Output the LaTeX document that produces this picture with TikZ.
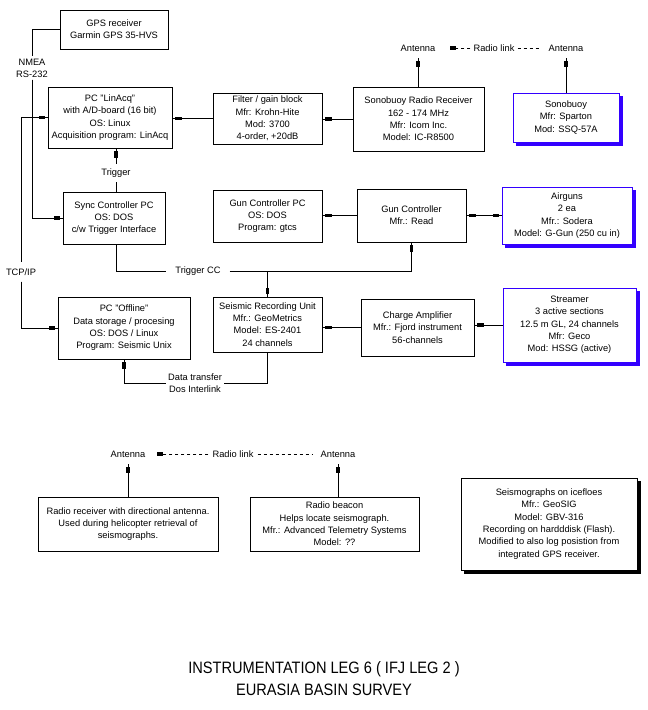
\documentclass[tikz,border=0pt]{standalone}
\usepackage{fontspec}
\setmainfont{Liberation Sans}
\newfontfamily\titlefont[FakeStretch=0.885]{Liberation Sans}
\usetikzlibrary{arrows.meta}
\definecolor{myblue}{RGB}{51,0,255}
\newcommand{\bodyfont}{\fontsize{9.3}{12.3}\selectfont}
\pgfdeclarelayer{bg}
\pgfsetlayers{bg,main}
\begin{document}
\begin{tikzpicture}[x=1pt,y=-1pt,
  box/.style={draw, fill=white, line width=0.8pt, align=center, inner sep=1pt, font=\bodyfont},
  bbox/.style={box, draw=myblue},
  lbl/.style={font=\bodyfont, align=center, inner sep=2pt},
  ant/.style={lbl, inner xsep=4pt, inner ysep=6.5pt},
  ln/.style={line width=0.8pt},
  tip/.tip={Rectangle[length=6pt,width=3.2pt]},
  tipe/.style={ln, postaction={draw, -tip, shorten >=3pt}},
  tips/.style={ln, postaction={draw, tip-, shorten <=3pt}},
  tipb/.style={ln, postaction={draw, tip-tip, shorten <=3pt, shorten >=3pt}},
  dln/.style={ln, dash pattern=on 3pt off 3pt},
  shad/.style={fill=#1},
]
\useasboundingbox (0,0) rectangle (648,710);

% boxes
\node[box, minimum width=108, minimum height=39] (gps) at (114,29.5) {GPS receiver\\Garmin GPS 35-HVS};
\node[box, minimum width=124, minimum height=61] (linacq) at (110,117.5) {PC "LinAcq"\\with A/D-board (16 bit)\\OS: Linux\\Acquisition program: LinAcq};
\node[box, minimum width=109, minimum height=51] (filter) at (267.5,118.5) {Filter / gain block\\Mfr: Krohn-Hite\\Mod: 3700\\4-order, +20dB};
\node[box, minimum width=131, minimum height=64] (srr) at (418.5,119) {Sonobuoy Radio Receiver\\162 - 174 MHz\\Mfr: Icom Inc.\\Model: IC-R8500};
\node[bbox, minimum width=106, minimum height=49] (sono) at (566,117.5) {Sonobuoy\\Mfr: Sparton\\Mod: SSQ-57A};
\node[box, minimum width=102, minimum height=52] (sync) at (114,218) {Sync Controller PC\\OS: DOS\\c/w Trigger Interface};
\node[box, minimum width=109, minimum height=52] (gcpc) at (267.5,216) {Gun Controller PC\\OS: DOS\\Program: gtcs};
\node[box, minimum width=109, minimum height=53] (gc) at (411.5,215.5) {Gun Controller\\Mfr.: Read};
\node[bbox, minimum width=130, minimum height=57] (airguns) at (567,215.5) {Airguns\\2 ea\\Mfr.: Sodera\\Model: G-Gun (250 cu in)};
\node[box, minimum width=132, minimum height=62] (offline) at (124,328) {PC "Offline"\\Data storage / procesing\\OS: DOS / Linux\\Program: Seismic Unix};
\node[box, minimum width=109, minimum height=55] (sru) at (267.5,324.5) {Seismic Recording Unit\\Mfr.: GeoMetrics\\Model: ES-2401\\24 channels};
\node[box, minimum width=113, minimum height=57] (ca) at (417.5,327.5) {Charge Amplifier\\Mfr.: Fjord instrument\\56-channels};
\node[bbox, minimum width=133, minimum height=74] (streamer) at (569.5,325) {Streamer\\3 active sections\\12.5 m GL, 24 channels\\Mfr: Geco\\Mod: HSSG (active)};
\node[box, minimum width=180, minimum height=54] (radiorx) at (128,524) {Radio receiver with directional antenna.\\Used during helicopter retrieval of\\seismographs.};
\node[box, minimum width=169, minimum height=54] (beacon) at (334.5,524) {Radio beacon\\Helps locate seismograph.\\Mfr.: Advanced Telemetry Systems\\Model: ??};
\node[box, minimum width=176, minimum height=92] (seis) at (549,524) {Seismographs on icefloes\\Mfr.: GeoSIG\\Model: GBV-316\\Recording on hardddisk (Flash).\\Modified to also log posistion from\\integrated GPS receiver.};

% shadows
\begin{pgfonlayer}{bg}
\foreach \n/\c in {sono/myblue, airguns/myblue, streamer/myblue, seis/black}
  \fill[shad=\c] ([xshift=3.5pt,yshift=-3.5pt]\n.south west) rectangle ([xshift=3.5pt,yshift=-3.5pt]\n.north east);
\end{pgfonlayer}

% labels
\node[lbl] (nmea) at (32,68) {NMEA\\RS-232};
\node[lbl, inner ysep=6pt] (tcp) at (21,272) {TCP/IP};
\node[lbl, inner ysep=4.5pt] (trig) at (116,173) {Trigger};
\node[lbl, inner xsep=9pt] (tcc) at (198,271) {Trigger CC};
\node[lbl] (dt) at (195,383.5) {Data transfer\\Dos Interlink};
\node[ant] (ant1) at (418,48) {Antenna};
\node[ant] (ant2) at (566,48) {Antenna};
\node[lbl, inner xsep=3pt] (rl1) at (494,48) {Radio link};
\node[ant] (ant3) at (128,454) {Antenna};
\node[ant] (ant4) at (338,454) {Antenna};
\node[lbl, inner xsep=4pt] (rl2) at (233,454) {Radio link};
\node[font=\titlefont\fontsize{16.5}{22}\selectfont, align=center] (title) at (324,679) {INSTRUMENTATION LEG 6 ( IFJ LEG 2 )\\EURASIA BASIN SURVEY};

% connectors
\draw[ln] (gps.west) -| (nmea.north);
\draw[tipe] (nmea.south) |- (sync.west);
\draw[tips] (linacq.west) -| (tcp.north);
\draw[tipe] (tcp.south) |- (offline.west);
\draw[tipe] (filter.west) -- (filter.west -| linacq.east);
\draw[tipe] (srr.west) -- (srr.west -| filter.east);
\draw[tipe] (srr.north -| ant1) -- (ant1.south);
\draw[tipe] (sono.north -| ant2) -- (ant2.south);
\draw[dln, shorten >=4pt] (rl1.east) -- (ant2.west);
\draw[dln, -tip, shorten >=10pt] (rl1.west) -- (ant1.east);
\draw[ln] (sync.north -| trig) -- (trig.south);
\draw[tipe] (trig.north) -- (trig.north |- linacq.south);
\draw[tipe] (gc.west) -- (gc.west -| gcpc.east);
\draw[tipb] (gc.east) -- (gc.east -| airguns.west);
\draw[ln] (sync.south -| trig) |- (tcc.west);
\draw[tipe] (tcc.east) -| (gc.south);
\coordinate (jct) at (sru.north |- tcc.east);
\draw[tipe] (jct) -- (sru.north);
\draw[tipe] (ca.west) -- (ca.west -| sru.east);
\draw[tipe] (streamer.west) -- (streamer.west -| ca.east);
\draw[ln] (sru.south) |- (dt.east);
\draw[tipe] (dt.west) -| (offline.south);
\draw[tipe] (radiorx.north -| ant3) -- (ant3.south);
\draw[tipe] (beacon.north -| ant4) -- (ant4.south);
\draw[dln, shorten >=4pt] (rl2.east) -- (ant4.west);
\draw[dln, -tip, shorten >=7pt] (rl2.west) -- (ant3.east);
\end{tikzpicture}
\end{document}
